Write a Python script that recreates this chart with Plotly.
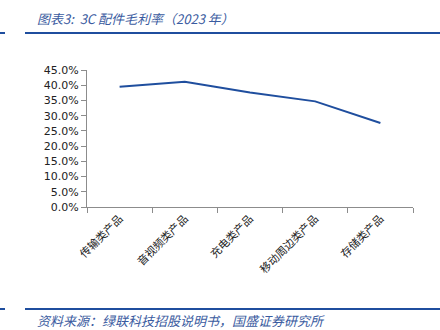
import plotly.graph_objects as go

# 3C accessory gross margin by product line, 2023
categories = ["传输类产品", "音视频类产品", "充电类产品", "移动周边类产品", "存储类产品"]
gross_margin = [0.395, 0.411, 0.376, 0.347, 0.276]
y_ticks = [0, 0.05, 0.10, 0.15, 0.20, 0.25, 0.30, 0.35, 0.40, 0.45]

title_text = "图表3:  3C 配件毛利率（2023 年）"
source_text = "资料来源：绿联科技招股说明书，国盛证券研究所"

CJK = "Noto Sans CJK SC"
BLUE = "#1F4E9E"
AXIS = "#8C8C8C"

fig = go.Figure()
fig.add_trace(go.Scatter(
    x=categories, y=gross_margin, mode="lines",
    line=dict(color=BLUE, width=2), hoverinfo="skip", showlegend=False,
))

fig.update_layout(
    width=440, height=330,
    margin=dict(l=87, r=27, t=70, b=123),
    paper_bgcolor="white", plot_bgcolor="white",
    xaxis=dict(
        type="category", range=[-0.5, len(categories) - 0.5],
        tickson="boundaries", ticks="outside", ticklen=5,
        tickcolor=AXIS, showline=True, linecolor=AXIS, linewidth=1,
        showgrid=False, tickangle=-45,
        tickfont=dict(family=CJK, size=11, color="#222222"),
    ),
    yaxis=dict(
        range=[0, 0.45], tickvals=y_ticks, tickformat=".1%",
        ticks="outside", ticklen=5, tickcolor=AXIS,
        showline=True, linecolor=AXIS, linewidth=1, showgrid=False,
        zeroline=False,
        tickfont=dict(family="DejaVu Sans", size=11, color="#222222"),
    ),
    annotations=[
        dict(text=title_text, xref="paper", yref="paper", x=-(87 - 35) / 326,
             y=1 + (70 - 18) / 137, xanchor="left", yanchor="middle",
             showarrow=False,
             font=dict(family=CJK, size=13, color="#3A5BA0", style="italic")),
        dict(text=source_text, xref="paper", yref="paper", x=-(87 - 35) / 326,
             y=-(320 - 207) / 137, xanchor="left", yanchor="middle",
             showarrow=False,
             font=dict(family=CJK, size=13, color="#3A5BA0", style="italic")),
    ],
    shapes=[
        # header rules
        dict(type="line", xref="paper", yref="paper", x0=-87 / 326, x1=-82 / 326,
             y0=1 + 37 / 137, y1=1 + 37 / 137, line=dict(color=BLUE, width=2)),
        dict(type="line", xref="paper", yref="paper", x0=-62 / 326, x1=353 / 326,
             y0=1 + 37 / 137, y1=1 + 37 / 137, line=dict(color=BLUE, width=2)),
        # footer rules
        dict(type="line", xref="paper", yref="paper", x0=-87 / 326, x1=-82 / 326,
             y0=-102 / 137, y1=-102 / 137, line=dict(color=BLUE, width=2)),
        dict(type="line", xref="paper", yref="paper", x0=-62 / 326, x1=353 / 326,
             y0=-102 / 137, y1=-102 / 137, line=dict(color=BLUE, width=2)),
    ],
)

fig.write_html("out.html")
